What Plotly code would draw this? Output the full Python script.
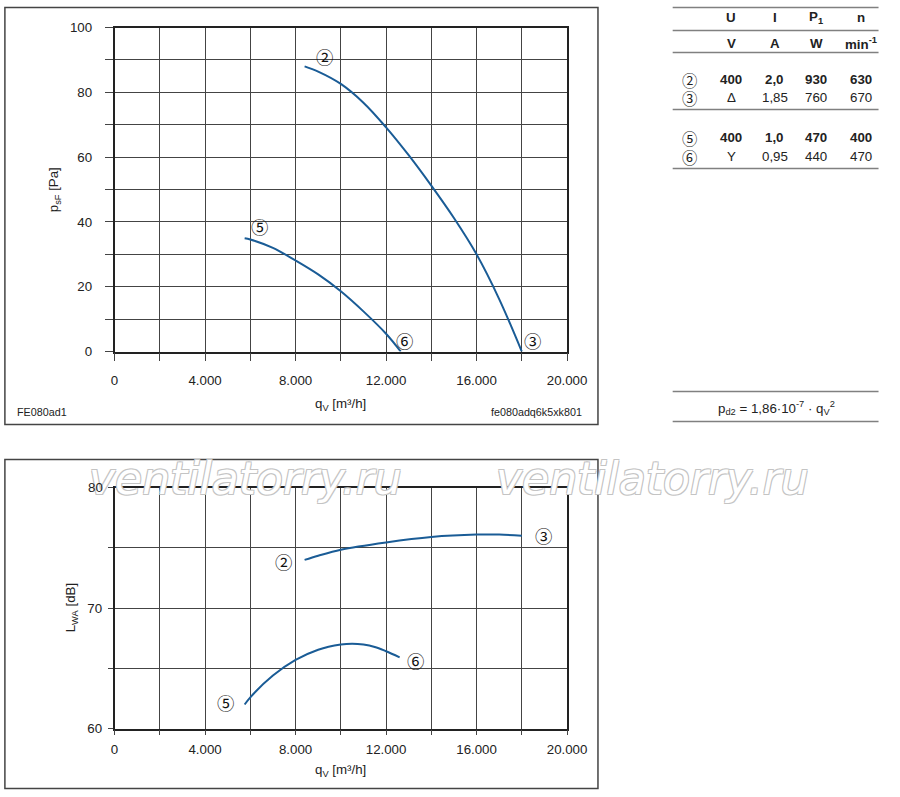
import plotly.graph_objects as go

# pressure curves (top chart)
q_23 = [8400, 9000, 10000, 11000, 12000, 13000, 14000, 15000, 16000, 17000, 18000]
p_23 = [88.0, 86.4, 82.6, 76.8, 69.2, 60.6, 51.2, 41.2, 30.0, 16.2, 0.0]
q_56 = [5750, 6000, 7000, 8000, 9000, 10000, 11000, 12000, 12650]
p_56 = [35.0, 34.6, 32.0, 28.1, 23.8, 18.6, 12.4, 5.5, 0.0]

# sound power curves (bottom chart)
qs_23 = [8400, 9000, 10000, 12000, 14000, 16000, 17000, 18000]
lwa_23 = [74.0, 74.35, 74.85, 75.45, 75.9, 76.1, 76.1, 76.0]
qs_56 = [5750, 6000, 7000, 8000, 9000, 10000, 10500, 11000, 11500, 12000, 12600]
lwa_56 = [62.0, 62.6, 64.4, 65.7, 66.55, 66.98, 67.05, 66.98, 66.78, 66.42, 65.92]

# tick labels
lwa_ticks = [60, 70, 80]
lwa_ticktext = ["60", "70", ""]  # "80" is drawn as an annotation above the watermark

# table
tbl_head = ["U", "I", "P<sub>1</sub>", "n"]
tbl_units = ["V", "A", "W", "min<sup>-1</sup>"]
tbl_marks = ["②", "③", "⑤", "⑥"]
tbl_rows = [
    ["400", "2,0", "930", "630"],
    ["Δ", "1,85", "760", "670"],
    ["400", "1,0", "470", "400"],
    ["Y", "0,95", "440", "470"],
]
tbl_bold = [True, False, True, False]

FONT = "Liberation Sans, Arial, sans-serif"
CIRC = "Noto Sans CJK JP, DejaVu Sans"
BLUE = "#1a5c96"
GRID = "#444444"

W, H = 900, 797
# the photo of the page comes out slightly shrunk; lay out in target pixels and stretch back
SX, SY, OX, OY = 0.9765, 0.981, 4.1, 6.5
S = 1 / SX


def clamp(v, lo, hi):
    return max(lo, min(hi, v))


def px(x):
    return clamp((x - OX) / SX, 0.5, W - 0.5) / W


def py(y):
    return 1 - clamp((y - OY) / SY, 0.5, H - 0.5) / H


def tx(x):
    # table squeezed a little so its right edge stays on the page
    return (687.0 + (x - 675) * (898.5 - 687.0) / (893 - 675)) / W


def fs(v):
    return round(v * S, 2)


fig = go.Figure()
fig.add_trace(go.Scatter(x=q_23, y=p_23, mode="lines", line=dict(color=BLUE, width=2, shape="spline"), xaxis="x", yaxis="y"))
fig.add_trace(go.Scatter(x=q_56, y=p_56, mode="lines", line=dict(color=BLUE, width=2, shape="spline"), xaxis="x", yaxis="y"))
fig.add_trace(go.Scatter(x=qs_23, y=lwa_23, mode="lines", line=dict(color=BLUE, width=2, shape="spline"), xaxis="x2", yaxis="y2"))
fig.add_trace(go.Scatter(x=qs_56, y=lwa_56, mode="lines", line=dict(color=BLUE, width=2, shape="spline"), xaxis="x2", yaxis="y2"))


def xax(anchor, ticklen, standoff):
    return dict(
        domain=[px(115), px(569)], anchor=anchor, range=[0, 20000],
        dtick=4000, tickformat=",d", ticks="outside", ticklen=ticklen, tickcolor=GRID,
        showgrid=True, gridcolor=GRID, gridwidth=1,
        minor=dict(dtick=2000, ticks="outside", ticklen=ticklen, tickcolor=GRID, showgrid=True, gridcolor=GRID, gridwidth=1),
        showline=True, linecolor="#222222", linewidth=1.5, mirror=True, zeroline=False,
        tickfont=dict(family=FONT, size=fs(13), color="#222"), ticklabelstandoff=standoff, fixedrange=True,
    )


def yax(anchor, dom, rng, mdt, ticklen, standoff, **kw):
    return dict(
        domain=dom, anchor=anchor, range=rng,
        ticks="outside", ticklen=ticklen, tickcolor=GRID,
        showgrid=True, gridcolor=GRID, gridwidth=1,
        minor=dict(dtick=mdt, ticks="outside", ticklen=ticklen, tickcolor=GRID, showgrid=True, gridcolor=GRID, gridwidth=1),
        showline=True, linecolor="#222222", linewidth=1.5, mirror=True, zeroline=False,
        tickfont=dict(family=FONT, size=fs(13), color="#222"), ticklabelstandoff=standoff, fixedrange=True, **kw,
    )


fig.update_layout(
    width=W, height=H, margin=dict(l=0, r=0, t=0, b=0),
    paper_bgcolor="white", plot_bgcolor="white", showlegend=False,
    separators=",.",
    xaxis=xax("y", 8, 8),
    yaxis=yax("x", [py(351), py(27)], [0, 100], 10, 8, 10, dtick=20),
    xaxis2=xax("y2", 5, 3),
    yaxis2=yax("x2", [py(728), py(487)], [60, 80], 5, 5, 3,
               tickmode="array", tickvals=lwa_ticks, ticktext=lwa_ticktext),
)

# frames
for y0, y1 in [(4, 424), (459, 792)]:
    fig.add_shape(type="rect", xref="paper", yref="paper", x0=px(5), x1=px(600), y0=py(y1), y1=py(y0),
                  line=dict(color="#444", width=1.5), layer="below")

ann = []


def text(x, y, t, size=13, xanchor="center", bold=False, family=FONT, xf=px, **kw):
    ann.append(dict(x=xf(x), y=py(y), xref="paper", yref="paper", text=t, showarrow=False,
                    xanchor=xanchor, yanchor="middle",
                    font=dict(family=family, size=fs(size), color="#222", weight="bold" if bold else "normal"), **kw))


# watermark
outline = "1px 1px 0 #c4c4c4, -1px -1px 0 #c4c4c4, 1px -1px 0 #c4c4c4, -1px 1px 0 #c4c4c4"
for wx in [246, 655]:
    ann.append(dict(x=px(wx), y=py(478), xref="paper", yref="paper", text="ventilatorry.ru", showarrow=False,
                    xanchor="center", yanchor="middle",
                    font=dict(family="DejaVu Sans", size=fs(43), color="white", style="italic", shadow=outline)))

# top tick label of the sound chart, kept above the watermark
ann.append(dict(x=px(105), y=80, xref="paper", yref="y2", text="80", showarrow=False,
                xanchor="right", yanchor="middle", font=dict(family=FONT, size=fs(13), color="#222")))

# axis titles and footers
text(342, 404, "q<sub>V</sub> [m³/h]")
text(55, 189, "p<sub>sF</sub> [Pa]", textangle=-90)
text(342, 770, "q<sub>V</sub> [m³/h]")
text(72, 607, "L<sub>WA</sub> [dB]", textangle=-90)
text(15, 411, "FE080ad1", size=10.5, xanchor="left")
text(586, 411, "fe080adq6k5xk801", size=10.5, xanchor="right")


# curve markers
def mark(x, y, t, xa, ya):
    ann.append(dict(x=x, y=y, xref=xa, yref=ya, text=t, showarrow=False,
                    xanchor="center", yanchor="middle",
                    font=dict(family=CIRC, size=fs(17), color="#111")))


mark(9295, 91.0, "②", "x", "y")
mark(6388, 38.6, "⑤", "x", "y")
mark(12819, 3.4, "⑥", "x", "y")
mark(18458, 3.4, "③", "x", "y")
mark(7489, 73.86, "②", "x2", "y2")
mark(18943, 76.0, "③", "x2", "y2")
mark(4890, 62.16, "⑤", "x2", "y2")
mark(13304, 65.64, "⑥", "x2", "y2")

# table
cols = [737, 783, 827, 874]
for c, h, u in zip(cols, tbl_head, tbl_units):
    text(c, 17, h, bold=True, xf=tx)
    text(c, 43, u, bold=True, xf=tx)
for yy, m, row, b in zip([79, 97, 137, 156], tbl_marks, tbl_rows, tbl_bold):
    text(693, yy, m, size=15, family=CIRC, xf=tx)
    for c, v in zip(cols, row):
        text(c, yy, v, bold=b, xf=tx)

for yl in [4, 30, 52, 109, 168, 391, 421]:
    fig.add_shape(type="line", xref="paper", yref="paper", x0=tx(675), x1=tx(893), y0=py(yl), y1=py(yl),
                  line=dict(color="#808080", width=1.5))
text(785, 407, "p<sub>d2</sub> = 1,86·10<sup>-7</sup> · q<sub>V</sub><sup>2</sup>", xf=tx)

fig.update_layout(annotations=ann)
fig.write_html(
    "out.html",
    config={"displayModeBar": False},
    post_script="document.body.style.margin='0';document.body.style.overflow='hidden';",
)
